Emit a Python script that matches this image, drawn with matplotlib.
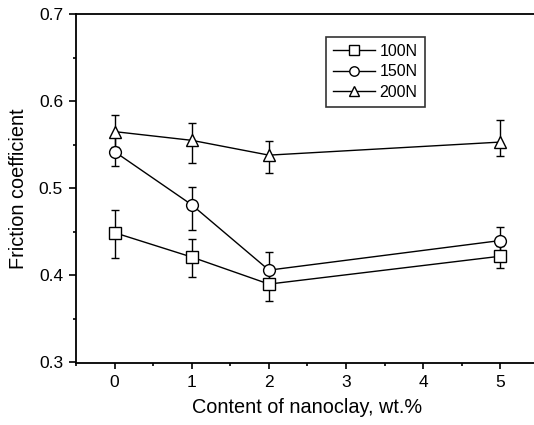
import matplotlib
matplotlib.use("Agg")
import matplotlib.pyplot as plt
from matplotlib.ticker import MultipleLocator

plt.rcParams["font.family"] = ["Liberation Sans", "DejaVu Sans"]

# nanoclay content, wt.%
content = [0, 1, 2, 5]

load_labels = ["100N", "150N", "200N"]
markers = ["s", "o", "^"]

mu_100 = [0.449, 0.421, 0.390, 0.422]
err_lo_100 = [0.029, 0.023, 0.019, 0.013]
err_hi_100 = [0.026, 0.021, 0.019, 0.012]

mu_150 = [0.542, 0.481, 0.406, 0.440]
err_lo_150 = [0.017, 0.029, 0.020, 0.016]
err_hi_150 = [0.017, 0.021, 0.021, 0.016]

mu_200 = [0.565, 0.555, 0.538, 0.553]
err_lo_200 = [0.018, 0.026, 0.020, 0.016]
err_hi_200 = [0.019, 0.020, 0.016, 0.025]

means = [mu_100, mu_150, mu_200]
errs = [(err_lo_100, err_hi_100), (err_lo_150, err_hi_150), (err_lo_200, err_hi_200)]

fig = plt.figure(figsize=(5.34, 4.25), dpi=100)
# right spine falls just outside the picture, as in the reference
ax = fig.add_axes([76 / 534, 1 - 362.5 / 425, 463 / 534, 348.5 / 425])

for y, (lo, hi), mk, lab in zip(means, errs, markers, load_labels):
    ax.errorbar(content, y, yerr=[lo, hi], fmt="none", ecolor="black",
                capsize=3, capthick=1.0, elinewidth=1.0, zorder=2)
    ax.plot(content, y, color="black", lw=1.0, marker=mk, markersize=8.5,
            markerfacecolor="white", markeredgecolor="black",
            markeredgewidth=1.0, label=lab, zorder=3)

ax.set_xlim(-0.5, 5.5)
ax.set_ylim(0.3, 0.7)
ax.xaxis.set_major_locator(MultipleLocator(1))
ax.xaxis.set_minor_locator(MultipleLocator(0.5))
ax.yaxis.set_major_locator(MultipleLocator(0.1))
ax.yaxis.set_minor_locator(MultipleLocator(0.05))
ax.tick_params(which="major", direction="out", length=4.5, width=1.2, labelsize=12.5)
ax.tick_params(axis="x", which="major", pad=4.5)
ax.tick_params(axis="y", which="major", length=5, pad=4.3)
ax.tick_params(which="minor", direction="out", length=2.5, width=1.2)
for s in ax.spines.values():
    s.set_linewidth(1.3)

ax.set_xlabel("Content of nanoclay, wt.%", fontsize=14.3, labelpad=6)
ax.set_ylabel("Friction coefficient", fontsize=14.3, labelpad=8)

leg = ax.legend(loc="upper left", bbox_to_anchor=(0.54, 0.935), fontsize=11.5,
                frameon=True, fancybox=False, edgecolor="black",
                borderpad=0.45, labelspacing=0.35, handlelength=2.6,
                handletextpad=0.3, borderaxespad=0, markerscale=0.8)
leg.get_frame().set_linewidth(1.2)

fig.savefig("out.png", dpi=100)
